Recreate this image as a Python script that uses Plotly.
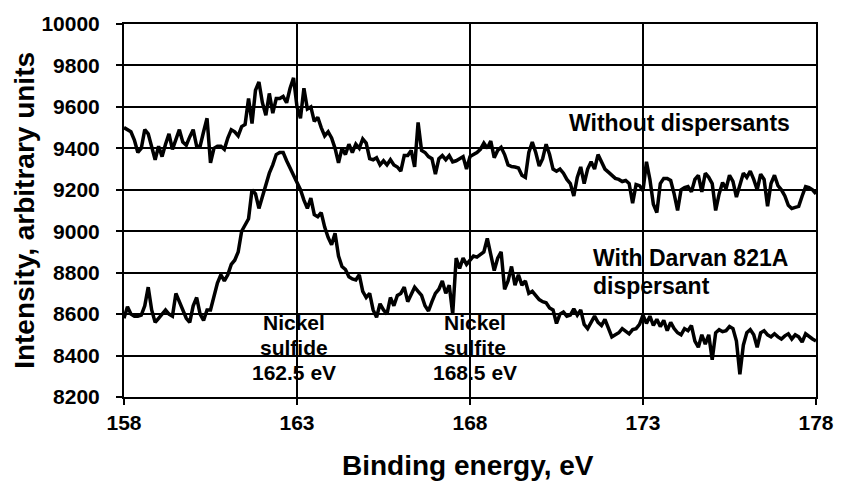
import plotly.graph_objects as go

# Binding energy grid (eV), 0.1 eV sampling from 158 to 178
energy_start = 158.0
energy_step = 0.1
n_points = 201
energy = [round(energy_start + energy_step * i, 1) for i in range(n_points)]

without_dispersants = [
    9500, 9490, 9480, 9440, 9380, 9400, 9490, 9470, 9400, 9345,
    9410, 9360, 9420, 9470, 9395, 9440, 9490, 9430, 9415, 9455,
    9490, 9410, 9410, 9480, 9545, 9330, 9400, 9410, 9410, 9395,
    9450, 9490, 9480, 9460, 9505, 9515, 9640, 9520, 9680, 9720,
    9620, 9560, 9665, 9570, 9640, 9640, 9650, 9620, 9690, 9740,
    9600, 9545, 9690, 9590, 9600, 9530, 9550, 9500, 9460, 9480,
    9450, 9400, 9330, 9400, 9370, 9420, 9380, 9420, 9400, 9445,
    9425, 9350, 9345, 9355, 9320, 9340, 9320, 9345, 9320, 9310,
    9290, 9365, 9365, 9390, 9310, 9525, 9390, 9380, 9360, 9350,
    9275, 9350, 9365, 9345, 9365, 9335, 9340, 9350, 9360, 9300,
    9360, 9370, 9380, 9395, 9425, 9400, 9435, 9355, 9390, 9405,
    9370, 9320, 9312, 9310, 9305, 9270, 9260, 9380, 9430, 9380,
    9315, 9350, 9420, 9370, 9300, 9290, 9300, 9280, 9250, 9230,
    9170, 9260, 9310, 9230, 9300, 9335, 9300, 9370, 9335, 9300,
    9285, 9270, 9255, 9250, 9240, 9245, 9230, 9135, 9225, 9220,
    9195, 9335, 9250, 9130, 9090, 9230, 9255, 9255, 9245, 9180,
    9100, 9200, 9210, 9215, 9190, 9250, 9270, 9190, 9280, 9260,
    9230, 9100, 9180, 9235, 9205, 9270, 9240, 9165, 9220, 9280,
    9260, 9290, 9250, 9200, 9275, 9250, 9120, 9230, 9270, 9220,
    9200, 9170, 9125, 9110, 9115, 9120, 9170, 9215, 9210, 9200,
    9180,
]

with_darvan = [
    8580, 8635, 8600, 8590, 8590, 8595, 8640, 8730, 8620, 8560,
    8580, 8600, 8620, 8600, 8590, 8700, 8660, 8620, 8580, 8560,
    8640, 8680, 8600, 8570, 8620, 8620, 8680, 8750, 8790, 8760,
    8790, 8840, 8860, 8900, 9000, 9030, 9060, 9200, 9180, 9110,
    9170, 9230, 9280, 9320, 9370, 9380, 9380, 9340, 9305, 9265,
    9235, 9200, 9150, 9110, 9160, 9080, 9070, 9090, 9020, 8970,
    8935, 8990, 8880, 8830, 8815, 8780, 8770, 8765, 8790, 8710,
    8680, 8700, 8620, 8585, 8650, 8620, 8600, 8680, 8640, 8690,
    8700, 8730, 8660, 8700, 8730, 8710, 8690, 8640, 8615, 8660,
    8700, 8720, 8760, 8700, 8740, 8600, 8870, 8820, 8870, 8840,
    8860, 8880, 8875, 8890, 8900, 8965, 8890, 8810, 8870, 8900,
    8720, 8760, 8830, 8740, 8790, 8740, 8760, 8700, 8710, 8690,
    8670, 8660, 8655, 8630, 8620, 8555, 8600, 8610, 8590, 8595,
    8625, 8595, 8620, 8550, 8530, 8560, 8590, 8560, 8545, 8575,
    8530, 8490, 8500, 8510, 8530, 8515, 8505, 8525, 8530, 8550,
    8595, 8555, 8590, 8545, 8575, 8540, 8570, 8520, 8560, 8530,
    8510, 8500, 8530, 8520, 8545, 8470, 8440, 8500, 8455, 8500,
    8380, 8510, 8525, 8515, 8520, 8540, 8530, 8470, 8310, 8450,
    8510, 8525, 8500, 8440, 8510, 8520, 8500, 8490, 8505, 8490,
    8480, 8495, 8505, 8480, 8500, 8490, 8465, 8505, 8490, 8480,
    8470,
]

x_ticks = [158, 163, 168, 173, 178]
y_ticks = [8200, 8400, 8600, 8800, 9000, 9200, 9400, 9600, 9800, 10000]

FONT = "Liberation Sans, Arial, sans-serif"

fig = go.Figure()
fig.add_trace(go.Scatter(x=energy, y=without_dispersants, mode="lines",
                         line=dict(color="black", width=3.5), name="Without dispersants"))
fig.add_trace(go.Scatter(x=energy, y=with_darvan, mode="lines",
                         line=dict(color="black", width=3.5), name="With Darvan 821A dispersant"))

axis_common = dict(
    showgrid=True, gridcolor="black", gridwidth=2,
    showline=True, linecolor="black", linewidth=2, mirror=True,
    ticks="outside", ticklen=6, tickwidth=2, tickcolor="black",
    zeroline=False,
    tickfont=dict(family=FONT, size=21, color="black", weight="bold"),
)

fig.update_xaxes(range=[158, 178], tickvals=x_ticks, ticktext=[str(v) for v in x_ticks], **axis_common)
fig.update_yaxes(range=[8200, 10000], tickvals=y_ticks, ticktext=[str(v) for v in y_ticks],
                 ticklabelstandoff=12, **axis_common)

peak_font = dict(family=FONT, size=21, color="black", weight="bold")
label_font = dict(family=FONT, size=23, color="black", weight="bold")
title_font = dict(family=FONT, size=28, color="black", weight="bold")


def txt(x, y, s, font, anchor="center"):
    return dict(x=x, y=y, xref="x", yref="y", text=s, showarrow=False,
                xanchor=anchor, yanchor="middle", font=font)


fig.update_layout(
    width=846, height=486,
    margin=dict(l=124, r=21, t=16, b=89),
    paper_bgcolor="white", plot_bgcolor="white",
    showlegend=False,
    annotations=[
        txt(170.8, 9520, "Without dispersants", label_font, "left"),
        txt(171.5, 8871, "With Darvan 821A", label_font, "left"),
        txt(171.5, 8734, "dispersant", label_font, "left"),
        txt(162.9, 8559, "Nickel", peak_font),
        txt(162.9, 8441, "sulfide", peak_font),
        txt(162.9, 8318, "162.5 eV", peak_font),
        txt(168.15, 8559, "Nickel", peak_font),
        txt(168.15, 8441, "sulfite", peak_font),
        txt(168.15, 8318, "168.5 eV", peak_font),
        dict(x=0.497, y=-0.184, xref="paper", yref="paper", text="Binding energy, eV",
             showarrow=False, xanchor="center", yanchor="middle", font=title_font),
        dict(x=-0.144, y=0.5, xref="paper", yref="paper", text="Intensity, arbitrary units",
             showarrow=False, xanchor="center", yanchor="middle", textangle=-90, font=title_font),
    ],
)

fig.write_html("out.html")
